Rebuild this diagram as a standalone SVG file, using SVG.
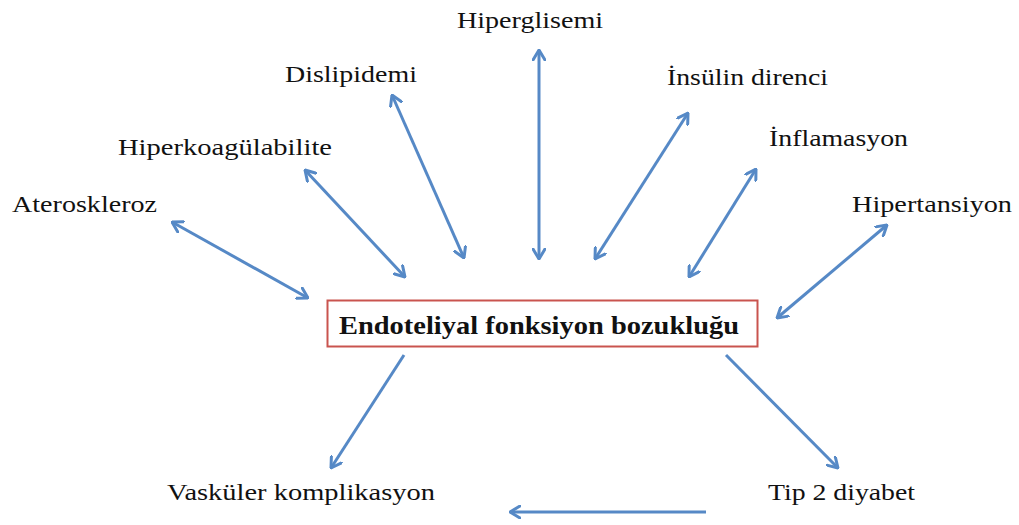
<svg xmlns="http://www.w3.org/2000/svg" width="1019" height="525" viewBox="0 0 1019 525">
<style>
.lbl{font-size:23px;fill:#111;}
.main{font-size:26px;font-weight:bold;fill:#111;}
.conn line{stroke:#5689c6;stroke-width:3;fill:none;}
</style>
<defs>
<marker id="ah" viewBox="0 0 12 14" refX="11" refY="7" markerWidth="12" markerHeight="14" markerUnits="userSpaceOnUse" orient="auto-start-reverse">
<path d="M1,1 L11,7 L1,13" fill="none" stroke="#5689c6" stroke-width="3" stroke-linecap="round" stroke-linejoin="round"/>
</marker>
</defs>
<rect width="1019" height="525" fill="#fff"/>
<g font-family="'Liberation Serif', Tinos, 'Times New Roman', Times, serif">
<g id="center">
<rect x="327.5" y="300.5" width="430" height="46" fill="#fff" stroke="#c9544f" stroke-width="2"/>
<text class="main" x="339" y="334" textLength="400" lengthAdjust="spacingAndGlyphs">Endoteliyal fonksiyon bozukluğu</text>
</g>
<g id="n-hiperglisemi"><text class="lbl" x="457" y="28" textLength="146" lengthAdjust="spacingAndGlyphs">Hiperglisemi</text></g>
<g id="n-dislipidemi"><text class="lbl" x="285" y="82" textLength="132" lengthAdjust="spacingAndGlyphs">Dislipidemi</text></g>
<g id="n-insulin"><text class="lbl" x="667" y="85" textLength="161" lengthAdjust="spacingAndGlyphs">İnsülin direnci</text></g>
<g id="n-hiperkoag"><text class="lbl" x="118" y="155" textLength="214" lengthAdjust="spacingAndGlyphs">Hiperkoagülabilite</text></g>
<g id="n-inflamasyon"><text class="lbl" x="769" y="146" textLength="139" lengthAdjust="spacingAndGlyphs">İnflamasyon</text></g>
<g id="n-ateroskleroz"><text class="lbl" x="12" y="212" textLength="145" lengthAdjust="spacingAndGlyphs">Ateroskleroz</text></g>
<g id="n-hipertansiyon"><text class="lbl" x="852" y="212" textLength="160" lengthAdjust="spacingAndGlyphs">Hipertansiyon</text></g>
<g id="n-vaskuler"><text class="lbl" x="167" y="500" textLength="268" lengthAdjust="spacingAndGlyphs">Vasküler komplikasyon</text></g>
<g id="n-tip2"><text class="lbl" x="768" y="500" textLength="147" lengthAdjust="spacingAndGlyphs">Tip 2 diyabet</text></g>
</g>
<g id="connectors" class="conn">
<line x1="172" y1="222" x2="308" y2="298" marker-start="url(#ah)" marker-end="url(#ah)"/>
<line x1="305" y1="170" x2="405" y2="277" marker-start="url(#ah)" marker-end="url(#ah)"/>
<line x1="392" y1="95" x2="464" y2="258" marker-start="url(#ah)" marker-end="url(#ah)"/>
<line x1="539" y1="50" x2="539" y2="259" marker-start="url(#ah)" marker-end="url(#ah)"/>
<line x1="688" y1="113" x2="595" y2="259" marker-start="url(#ah)" marker-end="url(#ah)"/>
<line x1="756" y1="169" x2="689" y2="277" marker-start="url(#ah)" marker-end="url(#ah)"/>
<line x1="887" y1="225" x2="777" y2="318" marker-start="url(#ah)" marker-end="url(#ah)"/>
<line x1="404" y1="355" x2="331" y2="468" marker-end="url(#ah)"/>
<line x1="726" y1="355" x2="838" y2="468" marker-end="url(#ah)"/>
<line x1="706" y1="512" x2="510" y2="512" marker-end="url(#ah)"/>
</g>
</svg>
